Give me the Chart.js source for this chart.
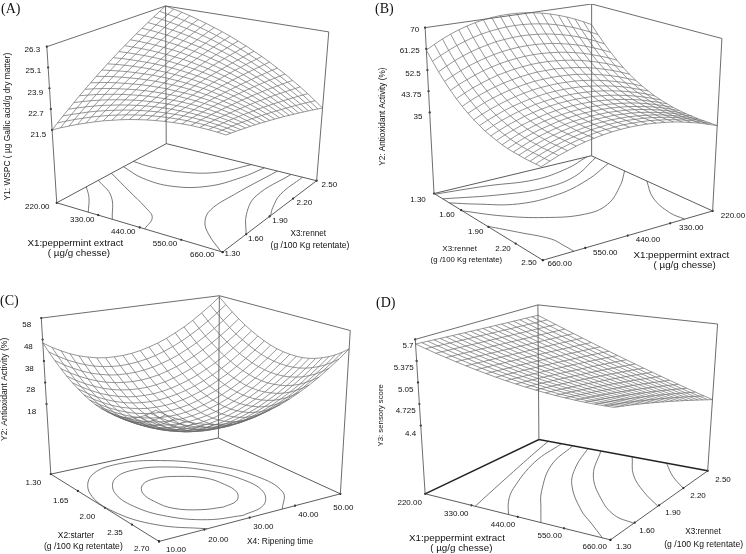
<!DOCTYPE html><html><head><meta charset="utf-8"><style>html,body{margin:0;padding:0;background:#fff}canvas{display:block}</style>
<script src="https://cdn.jsdelivr.net/npm/chart.js@4"></script></head><body><canvas id="c" width="746" height="554" style="width:746px;height:554px"></canvas>
<script>
// Surface heights; rows run along the second floor axis, columns along the first.
const surfaceA=[
[21.50,21.74,21.96,22.17,22.36,22.54,22.71,22.85,22.99,23.11,23.21,23.30,23.37,23.43,23.47,23.50,23.52,23.51,23.50,23.47,23.42],
[21.76,21.98,22.19,22.38,22.56,22.72,22.87,23.00,23.12,23.22,23.31,23.38,23.44,23.48,23.51,23.53,23.52,23.51,23.48,23.43,23.37],
[22.02,22.22,22.41,22.59,22.75,22.89,23.02,23.14,23.24,23.33,23.40,23.46,23.50,23.53,23.55,23.55,23.53,23.50,23.45,23.39,23.32],
[22.27,22.46,22.63,22.79,22.94,23.06,23.18,23.28,23.37,23.44,23.50,23.54,23.57,23.58,23.58,23.56,23.53,23.49,23.43,23.35,23.26],
[22.52,22.69,22.85,22.99,23.12,23.23,23.33,23.42,23.49,23.54,23.58,23.61,23.62,23.62,23.60,23.57,23.53,23.47,23.40,23.31,23.20],
[22.78,22.93,23.07,23.19,23.30,23.40,23.48,23.55,23.61,23.64,23.67,23.68,23.68,23.66,23.63,23.58,23.52,23.45,23.36,23.26,23.14],
[23.02,23.16,23.28,23.39,23.48,23.56,23.63,23.68,23.72,23.74,23.75,23.75,23.73,23.70,23.65,23.59,23.51,23.42,23.32,23.20,23.07],
[23.27,23.39,23.50,23.59,23.66,23.72,23.78,23.81,23.83,23.84,23.82,23.81,23.78,23.73,23.67,23.59,23.50,23.40,23.28,23.15,23.00],
[23.52,23.62,23.71,23.78,23.84,23.89,23.92,23.94,23.94,23.93,23.91,23.87,23.82,23.76,23.68,23.59,23.48,23.36,23.23,23.08,22.92],
[23.76,23.84,23.91,23.97,24.01,24.04,24.06,24.06,24.05,24.02,23.98,23.93,23.87,23.79,23.69,23.58,23.46,23.33,23.18,23.02,22.84],
[24.00,24.07,24.12,24.16,24.18,24.20,24.19,24.18,24.15,24.11,24.06,23.99,23.90,23.81,23.70,23.58,23.44,23.29,23.13,22.95,22.76],
[24.24,24.29,24.32,24.34,24.35,24.35,24.33,24.30,24.25,24.19,24.12,24.04,23.94,23.83,23.70,23.56,23.41,23.25,23.07,22.88,22.67],
[24.48,24.51,24.52,24.53,24.52,24.50,24.46,24.41,24.35,24.28,24.19,24.09,23.97,23.84,23.70,23.55,23.38,23.20,23.01,22.80,22.58],
[24.71,24.72,24.72,24.71,24.68,24.64,24.59,24.53,24.45,24.35,24.25,24.13,24.00,23.86,23.70,23.53,23.35,23.15,22.94,22.72,22.48],
[24.94,24.94,24.92,24.89,24.84,24.79,24.72,24.63,24.54,24.43,24.31,24.17,24.03,23.87,23.69,23.51,23.31,23.10,22.87,22.63,22.38],
[25.18,25.15,25.12,25.07,25.00,24.93,24.84,24.74,24.63,24.50,24.37,24.21,24.05,23.88,23.68,23.48,23.27,23.04,22.80,22.55,22.28],
[25.40,25.36,25.31,25.24,25.16,25.07,24.96,24.85,24.72,24.57,24.42,24.25,24.07,23.88,23.67,23.45,23.22,22.98,22.72,22.45,22.17],
[25.63,25.57,25.50,25.41,25.32,25.21,25.08,24.95,24.80,24.64,24.47,24.28,24.09,23.88,23.65,23.42,23.17,22.91,22.64,22.36,22.06],
[25.86,25.78,25.69,25.58,25.47,25.34,25.20,25.05,24.88,24.70,24.51,24.31,24.10,23.87,23.63,23.38,23.12,22.84,22.56,22.26,21.94],
[26.08,25.98,25.87,25.75,25.62,25.47,25.31,25.14,24.96,24.77,24.56,24.34,24.11,23.87,23.61,23.34,23.06,22.77,22.47,22.15,21.82],
[26.30,26.18,26.06,25.92,25.76,25.60,25.42,25.24,25.04,24.82,24.60,24.36,24.12,23.86,23.58,23.30,23.00,22.70,22.38,22.04,21.70]];
const surfaceB=[
[60.7,57.1,53.8,50.9,48.3,46.0,44.0,42.3,40.8,39.6,38.5,37.7,37.0,36.4,36.0,35.7,35.6,35.4,35.4,35.4,35.4],
[62.6,58.9,55.6,52.6,50.0,47.6,45.6,43.8,42.3,41.0,40.0,39.1,38.4,37.8,37.4,37.1,36.9,36.8,36.8,36.7,36.7],
[64.3,60.5,57.2,54.1,51.4,49.1,47.0,45.2,43.6,42.3,41.3,40.4,39.6,39.1,38.7,38.4,38.2,38.0,38.0,38.0,38.0],
[65.8,62.0,58.6,55.5,52.7,50.3,48.2,46.4,44.8,43.5,42.4,41.5,40.8,40.2,39.8,39.5,39.3,39.1,39.1,39.1,39.0],
[67.1,63.2,59.8,56.6,53.9,51.4,49.3,47.4,45.8,44.5,43.4,42.5,41.7,41.2,40.7,40.4,40.2,40.1,40.1,40.0,40.0],
[68.2,64.3,60.8,57.6,54.8,52.4,50.2,48.3,46.7,45.3,44.2,43.3,42.5,42.0,41.5,41.2,41.0,40.9,40.8,40.8,40.8],
[69.1,65.2,61.6,58.4,55.6,53.1,50.9,49.0,47.4,46.0,44.9,44.0,43.2,42.6,42.2,41.9,41.7,41.5,41.5,41.4,41.4],
[69.8,65.8,62.3,59.1,56.2,53.7,51.5,49.6,48.0,46.6,45.4,44.5,43.7,43.1,42.7,42.4,42.2,42.0,42.0,42.0,41.9],
[70.3,66.3,62.7,59.5,56.6,54.1,51.9,50.0,48.4,47.0,45.8,44.9,44.1,43.5,43.1,42.7,42.5,42.4,42.3,42.3,42.3],
[70.6,66.6,63.0,59.8,56.9,54.4,52.2,50.2,48.6,47.2,46.0,45.1,44.3,43.7,43.3,43.0,42.8,42.6,42.6,42.5,42.5],
[70.7,66.7,63.1,59.9,57.0,54.5,52.2,50.3,48.7,47.3,46.1,45.2,44.4,43.8,43.4,43.0,42.8,42.7,42.6,42.6,42.6],
[70.6,66.6,63.0,59.8,56.9,54.4,52.2,50.2,48.6,47.2,46.0,45.1,44.3,43.7,43.3,43.0,42.8,42.6,42.6,42.5,42.5],
[70.3,66.3,62.7,59.5,56.6,54.1,51.9,50.0,48.4,47.0,45.8,44.9,44.1,43.5,43.1,42.7,42.5,42.4,42.3,42.3,42.3],
[69.8,65.8,62.3,59.1,56.2,53.7,51.5,49.6,48.0,46.6,45.4,44.5,43.7,43.1,42.7,42.4,42.2,42.0,42.0,42.0,41.9],
[69.1,65.2,61.6,58.4,55.6,53.1,50.9,49.0,47.4,46.0,44.9,44.0,43.2,42.6,42.2,41.9,41.7,41.5,41.5,41.4,41.4],
[68.2,64.3,60.8,57.6,54.8,52.4,50.2,48.3,46.7,45.3,44.2,43.3,42.5,42.0,41.5,41.2,41.0,40.9,40.8,40.8,40.8],
[67.1,63.2,59.8,56.6,53.9,51.4,49.3,47.4,45.8,44.5,43.4,42.5,41.7,41.2,40.7,40.4,40.2,40.1,40.1,40.0,40.0],
[65.8,62.0,58.6,55.5,52.7,50.3,48.2,46.4,44.8,43.5,42.4,41.5,40.8,40.2,39.8,39.5,39.3,39.1,39.1,39.1,39.0],
[64.3,60.5,57.2,54.1,51.4,49.1,47.0,45.2,43.6,42.3,41.3,40.4,39.6,39.1,38.7,38.4,38.2,38.0,38.0,38.0,38.0],
[62.6,58.9,55.6,52.6,50.0,47.6,45.6,43.8,42.3,41.0,40.0,39.1,38.4,37.8,37.4,37.1,36.9,36.8,36.8,36.7,36.7],
[60.7,57.1,53.8,50.9,48.3,46.0,44.0,42.3,40.8,39.6,38.5,37.7,37.0,36.4,36.0,35.7,35.6,35.4,35.4,35.4,35.4]];
const surfaceC=[
[46.4,43.4,40.6,38.1,35.9,34.0,32.4,31.0,29.9,29.1,28.6,28.4,28.4,28.7,29.3,30.2,31.4,32.8,34.5,36.5,38.8],
[43.8,40.8,38.0,35.5,33.3,31.4,29.8,28.4,27.3,26.5,26.0,25.8,25.8,26.1,26.7,27.6,28.8,30.2,31.9,33.9,36.2],
[41.6,38.5,35.8,33.3,31.1,29.2,27.5,26.2,25.1,24.3,23.8,23.5,23.6,23.9,24.5,25.4,26.5,28.0,29.7,31.7,34.0],
[39.6,36.6,33.8,31.4,29.2,27.2,25.6,24.2,23.2,22.4,21.8,21.6,21.6,22.0,22.6,23.4,24.6,26.0,27.8,29.8,32.0],
[38.0,35.0,32.2,29.8,27.6,25.6,24.0,22.6,21.6,20.8,20.2,20.0,20.0,20.4,21.0,21.8,23.0,24.4,26.2,28.2,30.4],
[36.8,33.7,31.0,28.5,26.3,24.4,22.7,21.4,20.3,19.5,19.0,18.7,18.8,19.1,19.7,20.6,21.7,23.2,24.9,26.9,29.2],
[35.8,32.8,30.0,27.6,25.4,23.4,21.8,20.4,19.4,18.6,18.0,17.8,17.8,18.2,18.8,19.6,20.8,22.2,24.0,26.0,28.2],
[35.2,32.2,29.4,27.0,24.8,22.8,21.2,19.8,18.8,18.0,17.4,17.2,17.2,17.6,18.2,19.0,20.2,21.6,23.4,25.4,27.6],
[35.0,31.9,29.2,26.7,24.5,22.6,20.9,19.6,18.5,17.7,17.2,16.9,17.0,17.3,17.9,18.8,19.9,21.4,23.1,25.1,27.4],
[35.0,32.0,29.2,26.7,24.5,22.6,21.0,19.6,18.5,17.7,17.2,17.0,17.0,17.3,17.9,18.8,20.0,21.4,23.1,25.1,27.4],
[35.4,32.4,29.6,27.1,24.9,23.0,21.4,20.0,18.9,18.1,17.6,17.4,17.4,17.7,18.3,19.2,20.4,21.8,23.5,25.5,27.8],
[36.1,33.1,30.3,27.8,25.6,23.7,22.1,20.7,19.6,18.8,18.3,18.1,18.1,18.4,19.0,19.9,21.1,22.5,24.2,26.2,28.5],
[37.2,34.1,31.4,28.9,26.7,24.8,23.1,21.8,20.7,19.9,19.4,19.1,19.2,19.5,20.1,21.0,22.1,23.6,25.3,27.3,29.6],
[38.5,35.5,32.7,30.3,28.1,26.1,24.5,23.1,22.1,21.3,20.7,20.5,20.5,20.9,21.5,22.3,23.5,24.9,26.7,28.7,30.9],
[40.2,37.2,34.4,32.0,29.8,27.8,26.2,24.8,23.8,23.0,22.4,22.2,22.2,22.6,23.2,24.0,25.2,26.6,28.4,30.4,32.6],
[42.3,39.2,36.5,34.0,31.8,29.9,28.2,26.9,25.8,25.0,24.5,24.2,24.3,24.6,25.2,26.1,27.2,28.7,30.4,32.4,34.7],
[44.6,41.6,38.8,36.4,34.2,32.2,30.6,29.2,28.2,27.4,26.8,26.6,26.6,27.0,27.6,28.4,29.6,31.0,32.8,34.8,37.0],
[47.3,44.3,41.5,39.1,36.9,34.9,33.3,31.9,30.9,30.1,29.5,29.3,29.3,29.7,30.3,31.1,32.3,33.7,35.5,37.5,39.7],
[50.4,47.3,44.6,42.1,39.9,38.0,36.3,35.0,33.9,33.1,32.6,32.3,32.4,32.7,33.3,34.2,35.3,36.8,38.5,40.5,42.8],
[53.7,50.7,47.9,45.4,43.2,41.3,39.7,38.3,37.2,36.4,35.9,35.7,35.7,36.0,36.6,37.5,38.7,40.1,41.8,43.8,46.1],
[57.4,54.4,51.6,49.1,46.9,45.0,43.4,42.0,40.9,40.1,39.6,39.4,39.4,39.7,40.3,41.2,42.4,43.8,45.5,47.5,49.8]];
const surfaceD=[
[5.630,5.582,5.537,5.495,5.455,5.418,5.383,5.351,5.321,5.294,5.270,5.248,5.229,5.213,5.199,5.188,5.179,5.173,5.169,5.168,5.170],
[5.625,5.577,5.531,5.488,5.448,5.410,5.375,5.342,5.312,5.284,5.259,5.236,5.216,5.198,5.183,5.171,5.161,5.153,5.148,5.146,5.146],
[5.619,5.571,5.525,5.482,5.441,5.402,5.366,5.333,5.302,5.273,5.247,5.223,5.202,5.183,5.167,5.153,5.142,5.133,5.127,5.123,5.121],
[5.614,5.565,5.519,5.475,5.433,5.394,5.358,5.323,5.291,5.262,5.235,5.210,5.188,5.168,5.150,5.135,5.122,5.112,5.104,5.098,5.095],
[5.608,5.559,5.512,5.468,5.426,5.386,5.349,5.313,5.281,5.250,5.222,5.196,5.173,5.151,5.133,5.116,5.102,5.090,5.080,5.073,5.068],
[5.603,5.553,5.506,5.461,5.418,5.378,5.339,5.303,5.270,5.238,5.209,5.182,5.157,5.134,5.114,5.096,5.081,5.067,5.056,5.047,5.040],
[5.597,5.547,5.499,5.454,5.410,5.369,5.330,5.293,5.258,5.225,5.195,5.167,5.141,5.117,5.095,5.076,5.058,5.043,5.030,5.020,5.011],
[5.592,5.541,5.492,5.446,5.402,5.360,5.320,5.282,5.246,5.212,5.181,5.151,5.124,5.099,5.076,5.055,5.036,5.019,5.004,4.991,4.981],
[5.586,5.535,5.486,5.439,5.394,5.350,5.310,5.271,5.234,5.199,5.166,5.135,5.106,5.080,5.055,5.032,5.012,4.993,4.977,4.962,4.950],
[5.581,5.529,5.479,5.431,5.385,5.341,5.299,5.259,5.221,5.185,5.151,5.119,5.088,5.060,5.034,5.010,4.987,4.967,4.949,4.932,4.918],
[5.575,5.522,5.472,5.423,5.376,5.331,5.288,5.247,5.208,5.170,5.135,5.101,5.070,5.040,5.012,4.986,4.962,4.940,4.920,4.901,4.885],
[5.570,5.516,5.465,5.415,5.367,5.321,5.277,5.235,5.194,5.156,5.119,5.084,5.051,5.019,4.990,4.962,4.936,4.912,4.890,4.870,4.851],
[5.564,5.510,5.458,5.407,5.358,5.311,5.266,5.222,5.180,5.140,5.102,5.065,5.031,4.998,4.966,4.937,4.909,4.883,4.859,4.837,4.816],
[5.559,5.504,5.450,5.399,5.349,5.301,5.254,5.209,5.166,5.125,5.085,5.047,5.010,4.976,4.943,4.911,4.882,4.854,4.827,4.803,4.780],
[5.553,5.497,5.443,5.390,5.339,5.290,5.242,5.196,5.151,5.108,5.067,5.027,4.989,4.953,4.918,4.885,4.853,4.823,4.795,4.768,4.743],
[5.547,5.491,5.435,5.382,5.329,5.279,5.230,5.182,5.136,5.092,5.049,5.007,4.967,4.929,4.893,4.858,4.824,4.792,4.761,4.732,4.705],
[5.542,5.484,5.428,5.373,5.319,5.267,5.217,5.168,5.121,5.075,5.030,4.987,4.945,4.905,4.867,4.829,4.794,4.760,4.727,4.696,4.666],
[5.536,5.478,5.420,5.364,5.309,5.256,5.204,5.154,5.105,5.057,5.011,4.966,4.923,4.881,4.840,4.801,4.763,4.727,4.692,4.658,4.626],
[5.531,5.471,5.412,5.355,5.299,5.244,5.191,5.139,5.088,5.039,4.991,4.944,4.899,4.855,4.813,4.771,4.731,4.693,4.655,4.620,4.585],
[5.526,5.464,5.404,5.346,5.288,5.232,5.177,5.124,5.072,5.021,4.971,4.922,4.875,4.829,4.784,4.741,4.699,4.658,4.618,4.580,4.543],
[5.520,5.458,5.396,5.336,5.278,5.220,5.164,5.108,5.054,5.002,4.950,4.900,4.850,4.802,4.756,4.710,4.666,4.622,4.580,4.540,4.500]];
// Floor contours: each vertex is [share along first floor axis, share along second floor axis].
const contoursA=[[[0,.27],[.09,.16],[.19,0]],[[0,.38],[.17,.245],[.335,0]],[[0,.5],[.21,.355],[.394,.228],[.488,.143],[.53,0]],[[0,.61],[.168,.54],[.358,.538],[.519,.644],[.61,.829],[.653,1]],[[0,.7],[.128,.69],[.314,.729],[.463,.824],[.566,1]],[[.74,1],[.696,.632],[.69,.4],[.74,.26],[.833,.141],[.99,0]],[[.83,1],[.807,.675],[.88,.456],[1,.25]],[[.906,1],[.912,.76],[.96,.6],[1,.51]]];
const contoursB=[[[.01,0],[.055,.29],[.118,.555],[.079,.79],[0,.97]],[[.08,0],[.192,.295],[.237,.53],[.193,.749],[.035,1]],[[.14,0],[.224,.109],[.339,.294],[.348,.532],[.267,.776],[.14,1]],[[.26,0],[.422,.136],[.56,.302],[.641,.488],[.602,.655],[.421,.866],[.274,1]],[[.49,0],[.641,.089],[.806,.176],[.916,.182],[1,.183]],[[.457,1],[.668,.884],[.88,.83],[1,.835]]];
const contoursC=[[[.81,.475],[.777,.571],[.685,.633],[.56,.645],[.435,.618],[.343,.519],[.31,.415],[.343,.319],[.435,.257],[.56,.245],[.685,.272],[.777,.371],[.81,.475]],[[.957,.49],[.903,.639],[.757,.735],[.557,.752],[.357,.685],[.211,.553],[.157,.39],[.211,.241],[.357,.145],[.557,.128],[.757,.195],[.903,.327],[.957,.49]],[[1,.68],[.815,.805],[.56,.83],[.305,.745],[.118,.573],[.05,.36],[.118,.163],[.305,.035],[.56,.01],[.815,.095],[1,.265]]];
const contoursD=[[[.055,1],[.106,.775],[.196,.366],[.27,0]],[[.133,1],[.173,.699],[.289,.318],[.36,.155],[.45,0]],[[.2,1],[.267,.7],[.423,.355],[.533,.162],[.625,0]],[[.29,1],[.382,.743],[.499,.514],[.703,.251],[.825,.131],[.957,0]],[[.367,1],[.517,.688],[.71,.433],[.871,.28],[1,.24]],[[.553,1],[.69,.786],[.848,.616],[1,.488]],[[.756,1],[.877,.859],[1,.749]]];
const zTicksA=[26.3,25.1,23.9,22.7,21.5],zTicksB=[70,61.25,52.5,43.75,35],zTicksC=[58,48,38,28,18],zTicksD=[5.7,5.375,5.05,4.725,4.4];
const uTickLabelsA=["220.00","330.00","440.00","550.00","660.00"],vTickLabelsA=["1.30","1.60","1.90","2.20","2.50"];
const uTickLabelsB=["1.30","1.60","1.90","2.20","2.50"],vTickLabelsB=["660.00","550.00","440.00","330.00","220.00"];
const uTickLabelsC=["1.30","1.65","2.00","2.35","2.70"],vTickLabelsC=["10.00","20.00","30.00","40.00","50.00"];
const uTickLabelsD=["220.00","330.00","440.00","550.00","660.00"],vTickLabelsD=["1.30","1.60","1.90","2.20","2.50"];
const tickShares=[0,.25,.5,.75,1];
const N=21;
const panels=[
{name:"(A)",nameAt:[1,9],s:surfaceA,c:contoursA,zt:zTicksA,ul:uTickLabelsA,vl:vTickLabelsA,zF:17.3,zT:26.3,
 F:[[53.3,201.7],[221,251.7],[316,179.3],[164,141.7]],T:[[43.3,43.3],[226,77],[328.3,28.3],[163.3,2]],o:[0,0],
 ztp:[[97,149],[100,213],[106,277],[108,341],[115,405]],utp:[[112,620],[247,659],[370,695],[495,732],[607,764]],vtp:[[697,760],[767,715],[840,662],[913,607],[988,553]],
 texts:[["Y1: WSPC ( µg Gallic acid/g dry matter)",22,380,8.4,-90],["X1:peppermint extract",226,730,9.8,0],["( µg/g chesse)",237,761,9.8,0],["X3:rennet",925,700,8.2,0],["(g /100 Kg retentate)",930,738,8.6,0]]},
{name:"(B)",nameAt:[375,9],s:surfaceB,c:contoursB,zt:zTicksB,ul:uTickLabelsB,vl:vTickLabelsB,zF:1.5,zT:70,
 F:[[434.7,192.3],[544.7,260],[716.3,210],[593.7,154]],T:[[425.7,24],[541.3,68.3],[725.7,35],[594,0]],o:[373,0],
 ztp:[[125,88],[110,153],[120,222],[115,285],[135,351]],utp:[[135,598],[222,645],[308,695],[390,745],[468,787]],vtp:[[560,792],[697,757],[825,720],[955,684],[1080,647]],
 texts:[["Y2: Antioxidant Activity (%)",30,350,8.2,-90],["X3:rennet",260,745,8,0],["(g /100 Kg retentate)",280,780,7.8,0],["X1:peppermint extract",925,767,9.8,0],["( µg/g chesse)",935,797,9.8,0]]},
{name:"(C)",nameAt:[0,301],s:surfaceC,c:contoursC,zt:zTicksC,ul:uTickLabelsC,vl:vTickLabelsC,zF:-14.6,zT:58,
 F:[[47.3,477],[156.7,545.3],[340,497],[216.7,440.3]],T:[[37.7,318.7],[152.3,364.3],[350,331.3],[217.7,296]],o:[0,277],
 ztp:[[80,143],[85,208],[88,275],[92,339],[95,405]],utp:[[100,617],[182,670],[262,720],[345,768],[425,815]],vtp:[[528,817],[655,787],[790,750],[925,713],[1030,693]],
 texts:[["Y2: Antioxidant Activity (%)",15,337,8.6,-90],["X2:starter",228,777,8.4,0],["(g /100 Kg retentate)",250,810,8.6,0],["X4: Ripening time",840,795,8.4,0]]},
{name:"(D)",nameAt:[376,303],heavyBack:true,s:surfaceD,c:contoursD,zt:zTicksD,ul:uTickLabelsD,vl:vTickLabelsD,zF:3.37,zT:5.7,
 F:[[425.7,497],[613,543.7],[711.3,473.7],[540.7,442]],T:[[415.7,340.3],[618,369.7],[721.3,324.7],[539.7,305.3]],o:[373,277],
 ztp:[[105,205],[92,272],[98,337],[98,402],[113,470]],utp:[[110,678],[250,710],[390,743],[530,775],[665,808]],vtp:[[752,808],[822,760],[900,708],[975,655],[1050,607]],
 texts:[["Y3: sensory score",25,415,7.8,-90],["X1:peppermint extract",252,783,9.8,0],["( µg/g chesse)",265,815,9.8,0],["X3:rennet",990,765,8.2,0],["(g /100 Kg retentate)",992,802,8.6,0]]}];
function proj(p,u,v,w){const b=(Q,k)=>Q[0][k]*(1-u)*(1-v)+Q[1][k]*u*(1-v)+Q[2][k]*u*v+Q[3][k]*(1-u)*v;
 return {x:b(p.F,0)+(b(p.T,0)-b(p.F,0))*w,y:b(p.F,1)+(b(p.T,1)-b(p.F,1))*w};}
const W=(p,z)=>(z-p.zF)/(p.zT-p.zF);
const ds=[],texts=[],idx=[...Array(N).keys()];
const line=(data,col,bw,t)=>ds.push({data,showLine:true,borderColor:col,borderWidth:bw,pointRadius:0,tension:t||0,fill:false});
for(const p of panels){
 const P=(u,v,w)=>proj(p,u,v,w),g=i=>i/(N-1);
 line([P(0,0,1),P(0,1,1),P(1,1,1)],"#5c5c5c",.9);
 line([P(0,0,0),P(0,0,1)],"#5c5c5c",.9);line([P(0,1,0),P(0,1,1)],"#5c5c5c",.9);line([P(1,1,0),P(1,1,1)],"#5c5c5c",.9);
 line([P(0,0,0),P(1,0,0),P(1,1,0)],"#4a4a4a",.9);
 line([P(1,1,0),P(0,1,0),P(0,0,0)],p.heavyBack?"#222":"#4a4a4a",p.heavyBack?1.5:.9);
 p.c.forEach(c=>line(c.map(q=>P(q[0],q[1],0)),"#555",.8,.4));
 for(const j of idx){line(idx.map(i=>P(g(i),g(j),W(p,p.s[j][i]))),"#6a6a6a",.7);line(idx.map(i=>P(g(j),g(i),W(p,p.s[i][j]))),"#6a6a6a",.7);}
 const pts=[];p.zt.forEach(z=>pts.push(P(0,0,W(p,z))));tickShares.forEach(t=>{pts.push(P(t,0,0));pts.push(P(1,t,0));});
 ds.push({data:pts,showLine:false,pointRadius:1.1,pointBackgroundColor:"#111",borderWidth:0});
 texts.push({t:p.name,x:p.nameAt[0],y:p.nameAt[1],f:"14px 'Liberation Serif'",a:"left",r:0});
 const at=q=>[p.o[0]+q[0]/3,p.o[1]+q[1]/3];
 const tk=(l,q)=>{const a=at(q);texts.push({t:String(l),x:a[0],y:a[1],f:"8px 'Liberation Sans'",a:"center",r:0});};
 p.zt.forEach((z,i)=>tk(z,p.ztp[i]));p.ul.forEach((l,i)=>tk(l,p.utp[i]));p.vl.forEach((l,i)=>tk(l,p.vtp[i]));
 p.texts.forEach(e=>{const a=at([e[1],e[2]]);texts.push({t:e[0],x:a[0],y:a[1],f:e[3]+"px 'Liberation Sans'",a:"center",r:e[4]});});
}
const textPlugin={id:"texts",afterDatasetsDraw(ch){const c=ch.ctx;c.save();c.fillStyle="#111";c.textBaseline="middle";
 for(const e of texts){c.save();c.translate(e.x,e.y);c.rotate(e.r*Math.PI/180);c.font=e.f;c.textAlign=e.a;c.fillText(e.t,0,0);c.restore();}c.restore();}};
new Chart(document.getElementById("c"),{type:"scatter",data:{datasets:ds},plugins:[textPlugin],options:{responsive:false,animation:false,layout:{padding:0},
 plugins:{legend:{display:false},tooltip:{enabled:false}},scales:{x:{type:"linear",min:0,max:746,display:false},y:{type:"linear",min:0,max:554,reverse:true,display:false}}}});
</script></body></html>
